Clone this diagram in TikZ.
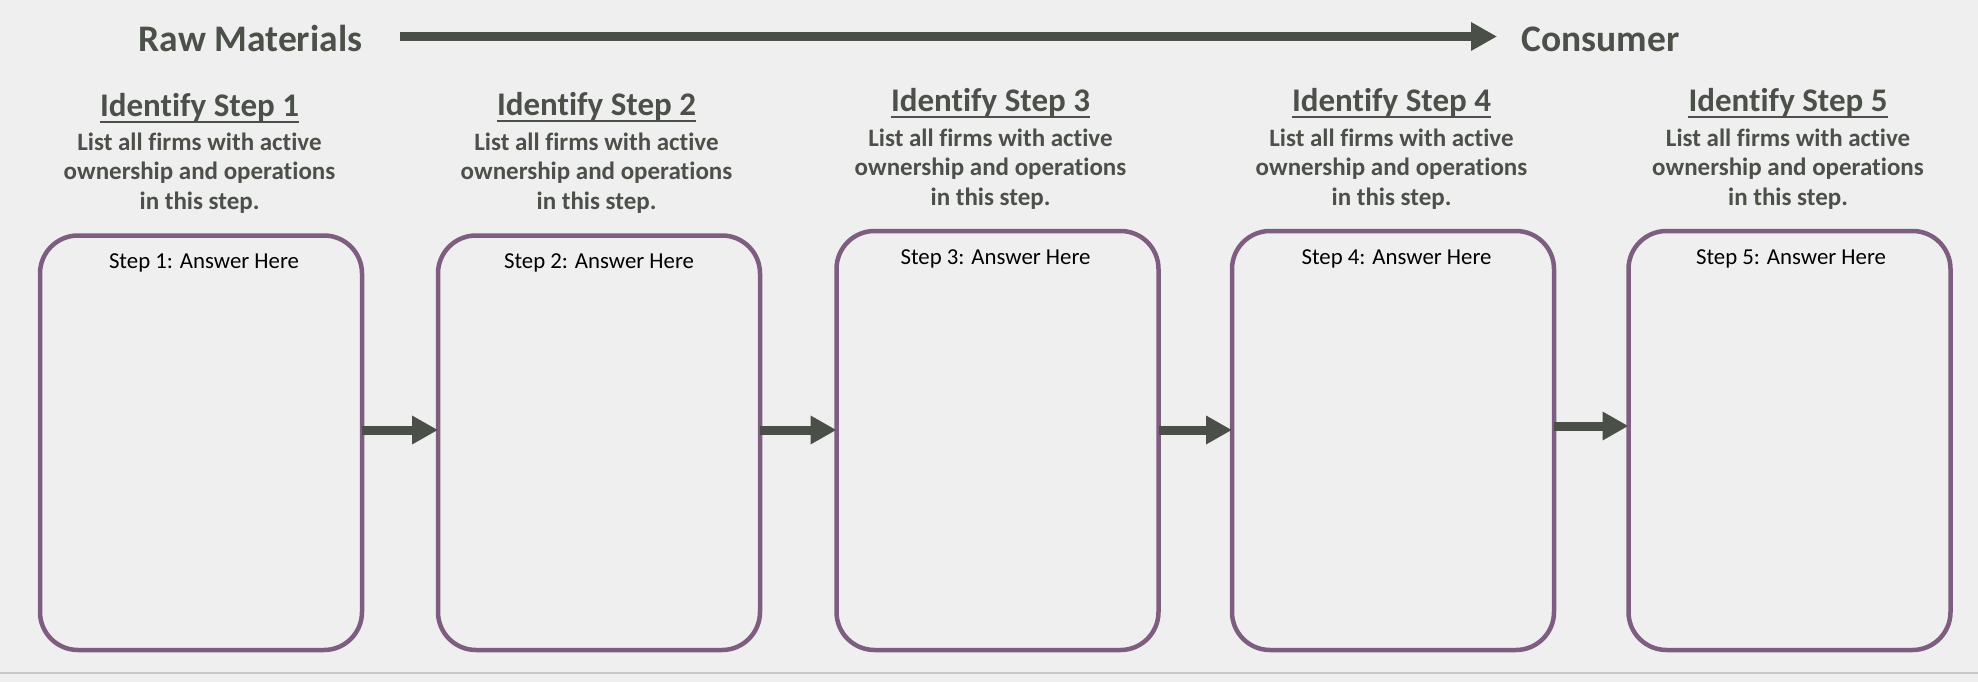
\documentclass[tikz,border=0pt]{standalone}
\usepackage{fontspec}
\setmainfont{Carlito}[Ligatures=NoCommon]
\usetikzlibrary{arrows.meta}
\definecolor{bg}{HTML}{EFEFEF}
\definecolor{txtgray}{HTML}{4B5049}
\definecolor{arrgray}{HTML}{4A4F48}
\definecolor{boxpurple}{HTML}{7E5E80}
\definecolor{rulegray}{HTML}{C8C8C8}
\begin{document}
\begin{tikzpicture}[x=1pt,y=-1pt,
  headtext/.style={inner sep=0pt, anchor=base, text=txtgray, font=\fontsize{37.5}{45}\selectfont\bfseries},
  titletext/.style={inner sep=0pt, anchor=base, text=txtgray, font=\fontsize{33}{39}\selectfont\bfseries},
  subtext/.style={inner sep=0pt, anchor=base, text=txtgray, align=center, font=\fontsize{25}{29.5}\selectfont\bfseries},
  answertext/.style={inner sep=0pt, anchor=base, text=black, font=\fontsize{22.8}{27}\selectfont},
  stepbox/.style={draw=boxpurple, line width=4.5pt, rounded corners=38pt, minimum width=322pt, inner sep=0pt, outer sep=0pt},
  flowarrow/.style={draw=arrgray, line width=9pt, -{Triangle[length=26pt,width=27pt]}},
  ulinestyle/.style={draw=txtgray, line width=2pt}
]
\fill[bg] (0,0) rectangle (1978,682);
\useasboundingbox (0,0) rectangle (1978,682);
\draw[rulegray, line width=2pt] (0,673) -- (1978,673);

% top header
\node[headtext] (raw) at (250.5,52) {Raw Materials};
\node[headtext] (cons) at (1600.5,52) {Consumer};
\coordinate (ta) at (400,36.5);
\coordinate (tb) at (1497,36.5);
\draw[flowarrow] (ta) -- (tb);

% boxes
\node[stepbox, minimum height=414.5pt] (b1) at (201,442.75) {};
\node[stepbox, minimum height=414.5pt] (b2) at (599,442.75) {};
\node[stepbox, minimum height=419pt] (b3) at (997.5,440.5) {};
\node[stepbox, minimum height=419pt] (b4) at (1393,440.5) {};
\node[stepbox, minimum height=419pt] (b5) at (1789.5,440.5) {};

% answers
\node[answertext] (a1) at (204,268) {Step 1: Answer Here};
\node[answertext] (a2) at (599,268) {Step 2: Answer Here};
\node[answertext] (a3) at (995.5,264) {Step 3: Answer Here};
\node[answertext] (a4) at (1396.5,264) {Step 4: Answer Here};
\node[answertext] (a5) at (1791,264) {Step 5: Answer Here};

% titles
\node[titletext] (t1) at (199.5,117) {Identify Step 1};
\node[titletext] (t2) at (596.5,116) {Identify Step 2};
\node[titletext] (t3) at (990.5,112) {Identify Step 3};
\node[titletext] (t4) at (1391.5,112) {Identify Step 4};
\node[titletext] (t5) at (1788,112) {Identify Step 5};
\foreach \t in {t1,t2,t3,t4,t5}{
  \draw[ulinestyle] ([yshift=-5.5pt]\t.base west) -- ([yshift=-5.5pt]\t.base east);
}

% subtitles (anchored at the baseline of the last line)
\node[subtext] (s1) at (199.5,209) {List all firms with active\\ownership and operations\\in this step.};
\node[subtext] (s2) at (596.5,209) {List all firms with active\\ownership and operations\\in this step.};
\node[subtext] (s3) at (990.5,205) {List all firms with active\\ownership and operations\\in this step.};
\node[subtext] (s4) at (1391.5,205) {List all firms with active\\ownership and operations\\in this step.};
\node[subtext] (s5) at (1788,205) {List all firms with active\\ownership and operations\\in this step.};

% connectors between boxes
\draw[flowarrow] ([yshift=12.75pt]b1.east) -- ([yshift=12.75pt]b1.east -| b2.west);
\draw[flowarrow] ([yshift=12.75pt]b2.east) -- ([yshift=12.75pt]b2.east -| b3.west);
\draw[flowarrow] ([yshift=10.5pt]b3.east) -- ([yshift=10.5pt]b3.east -| b4.west);
\draw[flowarrow] ([yshift=14.5pt]b4.east) -- ([yshift=14.5pt]b4.east -| b5.west);
\end{tikzpicture}
\end{document}
